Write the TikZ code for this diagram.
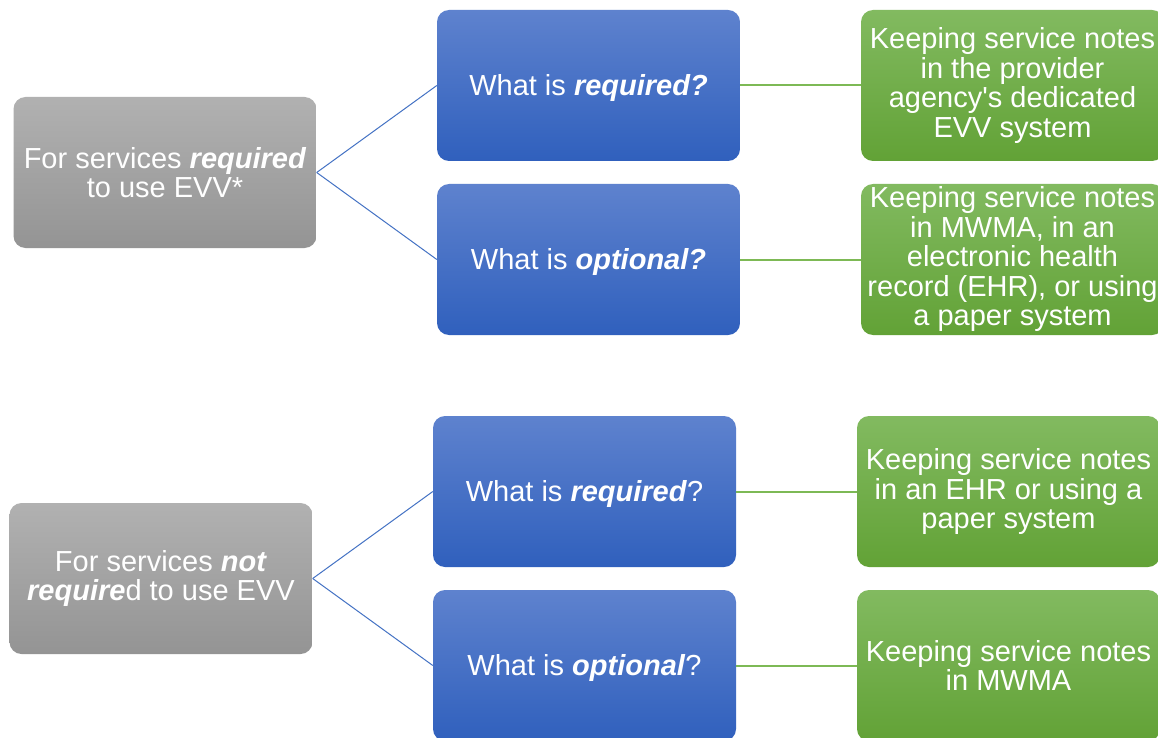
\documentclass[tikz,border=0pt]{standalone}
\usepackage{fontspec}
\setmainfont{Liberation Sans}
\usepackage{tikz}
\usetikzlibrary{positioning, shadings}
\definecolor{GrayTop}{RGB}{177,177,177}
\definecolor{GrayBot}{RGB}{148,148,148}
\definecolor{BlueTop}{RGB}{94,130,206}
\definecolor{BlueBot}{RGB}{48,96,189}
\definecolor{GreenTop}{RGB}{130,186,96}
\definecolor{GreenBot}{RGB}{98,162,54}
\definecolor{BranchColor}{RGB}{68,114,196}
\definecolor{NoteLineColor}{RGB}{125,185,85}
\newcommand{\bi}[1]{\textbf{\textit{#1}}}
\tikzstyle{box} = [rectangle, rounded corners=12pt, minimum width=303pt, minimum height=151pt, inner sep=0pt, align=center, text=white, font=\fontsize{29}{29.5}\selectfont, execute at begin node={\rule{0pt}{26pt}}]
\tikzstyle{greybox} = [box, top color=GrayTop, bottom color=GrayBot]
\tikzstyle{bluebox} = [box, top color=BlueTop, bottom color=BlueBot]
\tikzstyle{greenbox} = [box, top color=GreenTop, bottom color=GreenBot]
\tikzstyle{branch} = [draw=BranchColor, line width=1pt]
\tikzstyle{notelink} = [draw=NoteLineColor, line width=2pt]

\begin{document}
\begin{tikzpicture}[x=1pt, y=-1pt]
    \clip (0,0) rectangle (1158,738);
    \fill[white] (0,0) rectangle (1158,738);
    % Services required to use EVV
    \node[greybox] (evv) at (165,172.5) {For services \bi{required}\\to use EVV*};
    \node[bluebox] (req1) at (588.5,85.5) {What is \bi{required?}};
    \node[bluebox] (opt1) at (588.5,259.5) {What is \bi{optional?}};
    \node[greenbox] (note1) at (1012.5,85.5) {Keeping service notes\\in the provider\\agency\textquotesingle s dedicated\\EVV system};
    \node[greenbox] (note2) at (1012.5,259.5) {Keeping service notes\\in MWMA, in an\\electronic health\\record (EHR), or using\\a paper system};

    % Services not required to use EVV
    \node[greybox] (noevv) at (161,578.5) {For services \bi{not}\\\bi{require}d to use EVV};
    \node[bluebox] (req2) at (584.5,491.5) {What is \bi{required}?};
    \node[bluebox] (opt2) at (584.5,665.5) {What is \bi{optional}?};
    \node[greenbox] (note3) at (1008.5,491.5) {Keeping service notes\\in an EHR or using a\\paper system};
    \node[greenbox] (note4) at (1008.5,665.5) {Keeping service notes\\in MWMA};

    % Connections
    \draw[branch] (evv.east) -- (req1.west);
    \draw[branch] (evv.east) -- (opt1.west);
    \draw[branch] (noevv.east) -- (req2.west);
    \draw[branch] (noevv.east) -- (opt2.west);
    \draw[notelink] (req1.east) -- (note1.west);
    \draw[notelink] (opt1.east) -- (note2.west);
    \draw[notelink] (req2.east) -- (note3.west);
    \draw[notelink] (opt2.east) -- (note4.west);
\end{tikzpicture}
\end{document}
